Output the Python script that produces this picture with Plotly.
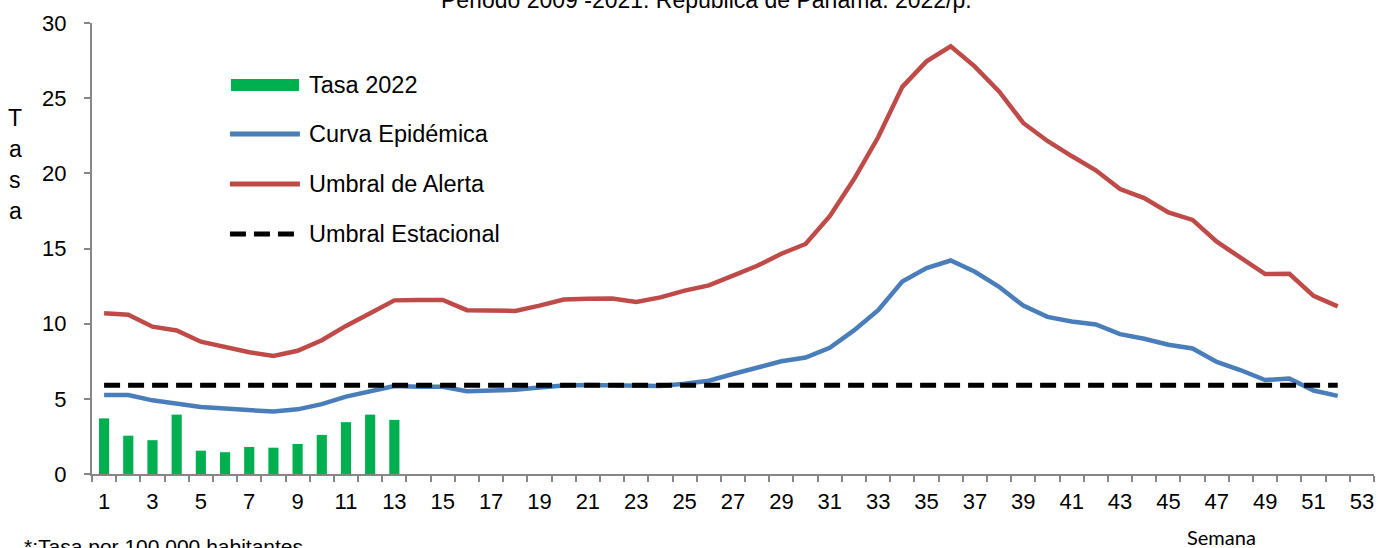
import plotly.graph_objects as go

# weeks 1..52
weeks = list(range(1, 53))

# Umbral de Alerta (red)
alerta = [10.7, 10.6, 9.8, 9.55, 8.8, 8.45, 8.1, 7.85, 8.2, 8.9,
          9.85, 10.7, 11.55, 11.58, 11.58, 10.9, 10.85, 10.85, 11.2, 11.6,
          11.65, 11.68, 11.45, 11.75, 12.2, 12.55, 13.2, 13.85, 14.65, 15.3,
          17.15, 19.6, 22.4, 25.75, 27.45, 28.45, 27.1, 25.45, 23.35, 22.15,
          21.15, 20.2, 18.95, 18.35, 17.4, 16.9, 15.45, 14.4, 13.3, 13.32,
          11.85, 11.15]

# Curva Epidémica (blue)
curva = [5.25, 5.25, 4.9, 4.65, 4.45, 4.35, 4.25, 4.15, 4.3, 4.65,
         5.15, 5.5, 5.85, 5.8, 5.8, 5.5, 5.55, 5.6, 5.75, 5.88,
         5.92, 5.92, 5.85, 5.85, 6.0, 6.2, 6.65, 7.1, 7.5, 7.75,
         8.4, 9.55, 10.9, 12.8, 13.7, 14.2, 13.45, 12.45, 11.2, 10.45,
         10.15, 9.95, 9.3, 9.0, 8.6, 8.35, 7.45, 6.9, 6.25, 6.35,
         5.55, 5.2]

# Umbral Estacional (black dashed, constant)
estacional = [5.9] * 52

# Tasa 2022 (green bars), weeks 1..13
semanas_2022 = list(range(1, 14))
tasa_2022 = [3.7, 2.55, 2.25, 3.95, 1.55, 1.45, 1.8, 1.75, 2.0, 2.6, 3.45, 3.95, 3.6]

x_ticks = list(range(1, 54, 2))
y_ticks = [0, 5, 10, 15, 20, 25, 30]

GREEN = "#00B050"
BLUE = "#4A7EBB"
RED = "#BE4B48"
AXIS = "#868686"
FONT = "Liberation Sans"

fig = go.Figure()
fig.add_trace(go.Bar(x=semanas_2022, y=tasa_2022, width=0.42,
                     marker=dict(color=GREEN, line=dict(width=0)), name="Tasa 2022"))
fig.add_trace(go.Scatter(x=weeks, y=curva, mode="lines", name="Curva Epidémica",
                         line=dict(color=BLUE, width=4.5)))
fig.add_trace(go.Scatter(x=weeks, y=alerta, mode="lines", name="Umbral de Alerta",
                         line=dict(color=RED, width=4.5)))
fig.add_trace(go.Scatter(x=weeks, y=estacional, mode="lines", name="Umbral Estacional",
                         line=dict(color="black", width=5, dash="16px,8px")))

# manual legend (Excel style, long keys)
legend_rows = [
    ("Tasa 2022", "bar", GREEN, 0.8625),
    ("Curva Epidémica", "line", BLUE, 0.7539),
    ("Umbral de Alerta", "line", RED, 0.643),
    ("Umbral Estacional", "dash", "black", 0.5322),
]
for label, kind, color, yy in legend_rows:
    if kind == "bar":
        fig.add_shape(type="rect", xref="paper", yref="paper",
                      x0=0.1084, x1=0.1615, y0=yy - 0.0133, y1=yy + 0.0133,
                      fillcolor=color, line=dict(width=0))
    else:
        fig.add_shape(type="line", xref="paper", yref="paper",
                      x0=0.1076, x1=0.1622, y0=yy, y1=yy,
                      line=dict(color=color, width=5,
                                dash="16px,8px" if kind == "dash" else "solid"))
    fig.add_annotation(text=label, xref="paper", yref="paper", x=0.1677, y=yy,
                       xanchor="left", yanchor="middle", showarrow=False,
                       font=dict(family=FONT, size=23.5, color="black"))

# vertical "Tasa" axis title
for ch, yy in zip("Tasa", [0.789, 0.721, 0.652, 0.583]):
    fig.add_annotation(text=ch, xref="paper", yref="paper", x=-0.06, y=yy,
                       xanchor="center", yanchor="middle", showarrow=False,
                       font=dict(family=FONT, size=23, color="black"))

# title (partially cut at the top, as in the original)
fig.add_annotation(text="Periodo 2009 -2021. República de Panamá. 2022/p.",
                   xref="paper", yref="paper", x=0.479, y=1.018,
                   xanchor="center", yanchor="bottom", showarrow=False,
                   font=dict(family=FONT, size=23, color="black"))

fig.add_annotation(text="*:Tasa por 100 000 habitantes", xref="paper", yref="paper",
                   x=-0.0546, y=-0.131, xanchor="left", yanchor="top", showarrow=False,
                   font=dict(family=FONT, size=21, color="black"))
fig.add_annotation(text="Semana", xref="paper", yref="paper", x=0.8807, y=-0.1397,
                   xanchor="center", yanchor="middle", showarrow=False,
                   font=dict(family="Lato", size=20, color="black"))

fig.update_layout(
    width=1385, height=548,
    margin=dict(l=92, r=11, t=23, b=74),
    paper_bgcolor="white", plot_bgcolor="white",
    showlegend=False,
    font=dict(family=FONT, size=22, color="black"),
    xaxis=dict(range=[0.5, 53.5], tickvals=x_ticks, ticks="", showgrid=False,
               zeroline=False, showline=True, linecolor=AXIS, linewidth=2,
               ticklabelstandoff=7,
               minor=dict(ticks="outside", tick0=0.5, dtick=1, ticklen=6,
                          tickcolor=AXIS, tickwidth=2, showgrid=False)),
    yaxis=dict(range=[0, 30], tickvals=y_ticks, ticks="outside", ticklen=6,
               tickcolor=AXIS, tickwidth=2, showgrid=False, zeroline=False,
               showline=True, linecolor=AXIS, linewidth=2, ticklabelstandoff=13),
)

fig.write_html("out.html", config={"displayModeBar": False},
               post_script="document.body.style.margin='0';document.body.style.overflow='hidden';")
